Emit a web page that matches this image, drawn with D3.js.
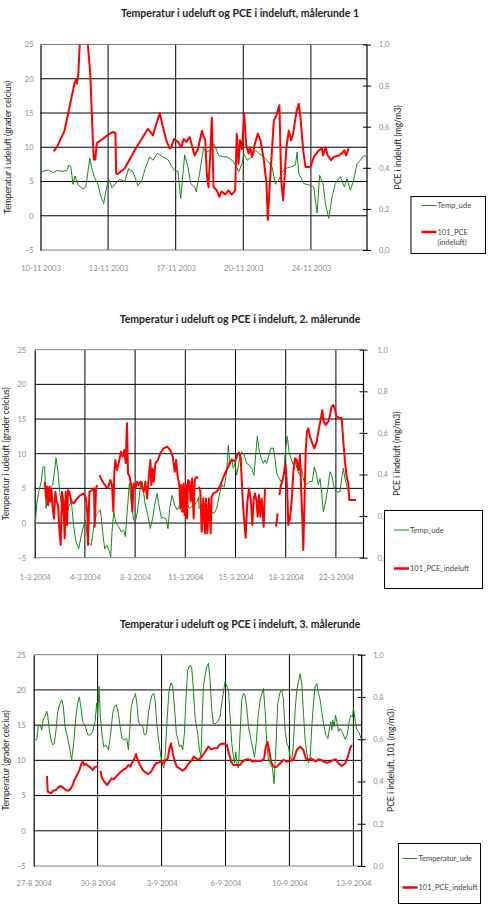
<!DOCTYPE html>
<html><head><meta charset="utf-8">
<script src="https://cdn.jsdelivr.net/npm/d3@7"></script>
<style>
body{margin:0;background:#fff}
text{font-family:Lato,"Open Sans",sans-serif}
</style>
</head><body>
<svg id="c" width="488" height="907"></svg>
<script>
// ---------- DATA ----------
const tempTicks = [-5, 0, 5, 10, 15, 20, 25];
const pceTicks = [0, 0.2, 0.4, 0.6, 0.8, 1.0];
const samplesPerLabel = 100;

// Chart 1
const title1 = "Temperatur i udeluft og PCE i indeluft, målerunde 1";
const labels1 = ["10-11 2003", "13-11 2003", "17-11 2003", "20-11 2003", "24-11 2003"];
const samples1 = 483;
const tempTitle1 = "Temperatur i udeluft  (grader celcius)";
const pceTitle1 = "PCE i indeluft (mg/m3)";
const legend1 = [["Temp_ude"], ["101_PCE", "(indeluft)"]];
const temp1 = [[0,6.3],[5,6.5],[12,6.7],[18,6.3],[25,6.6],[32,6.5],[39,6.6],[42,7.4],[45,7.1],[48,4.6],[51,5.8],[55.7,4.5],[63,3.9],[67,4.2],[73,8.4],[75.5,7.1],[79.4,5.7],[85.3,4.5],[88.7,3.0],[93.6,1.8],[96.5,3.5],[101,5.3],[105.9,4.1],[113.8,5.0],[117,5.3],[124.5,5.0],[130.4,6.9],[136.8,6.4],[144.2,4.4],[150.1,5.2],[155,6.9],[161.5,8.6],[166.4,8.1],[172.8,9.1],[181.2,8.6],[188.6,8.2],[193.5,7.3],[198.5,6.6],[203.4,6.5],[207.4,2.5],[210.8,6.2],[213.3,8.9],[218.2,7.1],[222.2,4.7],[228,4.2],[230.5,3.5],[235.4,6.2],[241,9.8],[246,9.3],[251,9.6],[256.4,10.5],[258.8,10.0],[263.7,8.8],[271,8.6],[276,8.6],[283.4,8.1],[288.4,7.4],[293.3,6.4],[298.2,7.6],[300.7,9.1],[305.6,8.1],[313,8.6],[318,9.6],[323,9.1],[327.8,8.8],[335.2,8.1],[342.6,7.1],[347.5,4.6],[352.5,5.2],[357.4,6.4],[362.3,6.9],[369.7,7.1],[377.1,7.4],[379.6,9.3],[382,6.2],[389.4,4.7],[396.8,4.5],[404.2,4.2],[409.1,0.4],[413,5.9],[418,4.7],[421.4,1.8],[426.4,-0.4],[431.3,2.8],[436.2,4.7],[443.6,5.7],[449.5,4.2],[453.5,5.4],[458.4,3.7],[463.3,5.2],[468.3,7.6],[473.2,8.1],[478.1,8.8],[483,8.6]];
const pce1 = [[19.8,0.48],[25.7,0.51],[35.5,0.58],[43,0.696],[50.3,0.81],[52.8,0.83],[54,0.81],[56,0.86],[58,1.0],[63,1.12],[70,1.0],[73.6,0.86],[77.5,0.53],[79,0.44],[81,0.44],[83.4,0.52],[92,0.54],[99.5,0.56],[106.9,0.574],[110.8,0.57],[112,0.372],[114,0.37],[124.5,0.397],[139.3,0.485],[159,0.59],[166.4,0.558],[170,0.6],[176.4,0.666],[181,0.6],[186.1,0.534],[191,0.494],[193.5,0.5],[197.4,0.54],[203.4,0.526],[208.3,0.5],[211.7,0.54],[215.6,0.526],[220.6,0.55],[224,0.51],[228,0.46],[232.9,0.49],[238.8,0.58],[241.7,0.55],[243.7,0.534],[246,0.372],[248.5,0.307],[251,0.453],[253.4,0.644],[256,0.307],[260.6,0.291],[264.6,0.259],[268,0.285],[273,0.27],[278,0.29],[283,0.27],[288,0.29],[290.3,0.566],[293,0.42],[295,0.534],[298,0.49],[301.3,0.663],[304.4,0.51],[307.8,0.47],[310,0.5],[313,0.453],[316.6,0.51],[321.5,0.566],[325.4,0.534],[330.4,0.437],[334.3,0.324],[336.3,0.146],[339.3,0.324],[342.7,0.5],[345.2,0.63],[349.1,0.655],[353.5,0.704],[356,0.34],[359,0.243],[361.4,0.372],[363.8,0.5],[367.3,0.58],[370.8,0.534],[373.7,0.566],[378.6,0.671],[382,0.712],[384.5,0.647],[388.5,0.49],[392,0.404],[399.4,0.404],[404.3,0.453],[411.7,0.485],[416.6,0.494],[418,0.46],[421.6,0.5],[425,0.46],[430,0.437],[434,0.453],[441,0.46],[446,0.47],[449.5,0.485],[452,0.46],[456,0.494]];

// Chart 2
const title2 = "Temperatur i udeluft  og PCE i indeluft, 2. målerunde";
const labels2 = ["1-3 2004", "4-3 2004", "8-3 2004", "11-3 2004", "15-3 2004", "18-3 2004", "22-3 2004"];
const samples2 = 655;
const tempTitle2 = "Temperatur i udeluft (grader celcius)";
const pceTitle2 = "PCE i indeluft (mg/m3)";
const legend2 = [["Temp_ude"], ["101_PCE_indeluft"]];
const temp2 = [[0,0],[1,-0.2],[4.6,3.1],[8,4.5],[13,6.0],[16.6,8.1],[20,8.1],[22.6,2.1],[26.6,5.0],[31,5.2],[35.9,5.5],[39.8,7.6],[42.5,9.4],[46.5,7.4],[49.8,4.5],[54.4,2.1],[57.8,0.7],[61,-0.5],[64.4,1.6],[69,2.6],[73,3.1],[77.7,-0.5],[82.3,-2.7],[87.6,-3.7],[93,-1.7],[97.6,-0.3],[101,0.4],[106,-2.7],[112.9,-3.2],[117.5,-0.5],[122.8,1.2],[130.8,1.9],[135.5,-1.3],[139.4,-3.7],[144,-3.2],[148.7,-4.1],[151.4,-4.9],[154,-1.3],[157.4,1.6],[162,0],[167.3,-0.5],[172.6,-1.3],[177.3,-1.0],[180.6,-2.0],[185.3,2.6],[188.6,5.7],[191.9,3.1],[197.2,0.4],[200.5,0.2],[203.9,1.4],[207.2,3.1],[210.5,5.2],[213.8,6.0],[217.1,4.3],[220.5,2.6],[225,1.2],[230.4,-0.8],[235,0.7],[239,2.6],[243.7,4.3],[247,2.8],[252.3,0.7],[257,0.8],[261.6,0.6],[265.6,-0.8],[268.9,2.1],[273.6,4.0],[278.9,2.6],[283.5,1.9],[288.2,2.4],[293.5,1.6],[298.8,2.6],[303.5,2.8],[308.2,2.1],[313.5,2.4],[318.7,2.6],[323.4,3.1],[326.7,3.8],[327.3,2.1],[332.6,2.6],[339.2,2.6],[345.9,2.5],[352.5,1.6],[357.8,1.4],[362.5,2.1],[367.1,3.8],[372.4,5.5],[377.7,5.2],[382.4,7.4],[385.7,11.2],[389,8.4],[392.3,9.3],[395.7,7.9],[399,8.6],[402.3,6.9],[407.6,9.1],[412.3,10.3],[417.6,9.8],[422.2,8.6],[426.9,8.4],[432.2,7.9],[436.8,6.9],[440.8,10.3],[443.5,12.5],[447.5,10.3],[452.1,9.1],[455.4,8.6],[458.8,9.1],[462.1,8.6],[466.7,9.8],[470.7,10.8],[475.3,10.8],[478.7,9.3],[482,7.2],[485.3,6.7],[490.6,6.0],[495.3,6.4],[499.9,10.8],[503.2,12.5],[506.6,10.3],[510.5,9.3],[515.2,8.4],[518.5,9.1],[521.8,8.1],[525.1,7.4],[528.5,6.9],[531.8,7.9],[535.1,6.4],[538.4,5.5],[543.7,5.7],[548.4,6.0],[553,6.0],[557,8.1],[561.7,6.9],[565,5.5],[568.3,6.4],[571.6,4.5],[575,1.6],[579.6,3.1],[584.9,5.5],[588.2,7.4],[591.6,6.9],[596.9,5.0],[601.5,4.5],[608.2,4.5],[611.5,6.4],[614.8,7.9],[618.1,6.4],[621.4,5.5],[624.8,4.5]];
const pce2 = [[20,0.365],[22.6,0.285],[24.6,0.341],[26.6,0.253],[29.2,0.341],[31.2,0.27],[33.2,0.333],[35.9,0.237],[38.5,0.189],[41.2,0.317],[43.8,0.27],[46.5,0.253],[49.1,0.141],[51.8,0.061],[54.4,0.317],[57.1,0.27],[59.8,0.093],[61.8,0.317],[64.4,0.157],[66.4,0.325],[69,0.317],[73,0.27],[77.7,0.261],[84.3,0.285],[91,0.301],[97.6,0.309],[102.3,0.285],[105,0.205],[106.2,0.061],[108.9,0.317],[114.2,0.325],[118.2,0.333],[119.5,0.149],[122.2,0.333],[124.2,0.349],[126,null],[128.8,0.397],[135.5,0.365],[142,0.341],[146,0.337],[150.7,0.373],[154,0.349],[156.7,0.221],[158.7,0.413],[160.7,0.47],[164,0.421],[168.6,0.47],[172,0.51],[175.3,0.486],[178.6,0.518],[181.3,0.454],[183.9,0.646],[185.9,0.405],[189.2,0.389],[192.6,0.341],[194.6,0.221],[197.2,0.357],[200.5,0.333],[203.9,0.365],[207.2,0.349],[210.5,0.365],[213.8,0.341],[217.1,0.317],[220.5,0.365],[223.8,0.285],[227,0.381],[230.4,0.47],[232.4,0.349],[235,0.429],[237.1,0.365],[240.4,0.454],[245.7,0.47],[250.3,0.502],[257,0.526],[263.6,0.534],[270.3,0.518],[274.9,0.486],[278.9,0.413],[281.6,0.47],[284.9,0.389],[288.2,0.349],[290.2,0.237],[292.2,0.349],[294.8,0.221],[296.8,0.357],[298.8,0.205],[301.5,0.349],[303.5,0.189],[305.5,0.373],[308.2,0.365],[310.8,0.27],[313.5,0.381],[316.7,0.189],[318.7,0.373],[322.6,0.389],[324.6,0.381],[326,null],[327.3,0.341],[330,0.317],[332.6,0.125],[335.9,0.285],[339.2,0.117],[341.2,0.285],[343.9,0.117],[347.2,0.285],[350.5,0.117],[352.5,0.293],[355.8,0.309],[362.5,0.317],[367.1,0.333],[372.4,0.365],[379.1,0.405],[385.7,0.437],[389,0.462],[393.7,0.47],[399,0.462],[403.6,0.494],[407,0.506],[410.3,0.478],[412.3,0.381],[414.9,0.253],[417.6,0.173],[420.2,0.096],[423.6,0.27],[426.9,0.333],[430.9,0.27],[433.5,0.157],[436.2,0.285],[438.8,0.309],[442.1,0.27],[444.1,0.197],[446.8,0.301],[449.4,0.197],[452.1,0.285],[454.1,0.221],[456.1,0.149],[458.7,0.333],[470,null],[480.7,0.149],[484,0.213],[485.5,null],[487.3,0.301],[490.6,0.349],[494,0.373],[497.3,0.413],[499.9,0.446],[503.2,0.317],[505.2,0.157],[508.5,0.189],[511.9,0.27],[515.2,0.413],[518.5,0.478],[521.8,0.47],[525.1,0.421],[528.5,0.494],[530.5,0.349],[533.1,0.189],[535.1,0.037],[537.1,0.237],[539.8,0.51],[542.4,0.606],[545.1,0.622],[548.4,0.582],[553,0.55],[557,0.526],[561.7,0.558],[566.3,0.622],[569.6,0.662],[573,0.71],[575.6,0.654],[579.6,0.638],[584.9,0.654],[588.2,0.686],[591.6,0.726],[594.9,0.734],[598.2,0.71],[601.5,0.678],[606.2,0.673],[611.5,0.67],[614.8,0.558],[618.1,0.462],[621.4,0.389],[624.8,0.357],[626.7,0.277],[632.7,0.277],[640,0.277]];

// Chart 3
const title3 = "Temperatur i udeluft og PCE i indeluft, 3. målerunde";
const labels3 = ["27-8 2004", "30-8 2004", "3-9 2004", "6-9 2004", "10-9 2004", "13-9 2004"];
const samples3 = 513;
const tempTitle3 = "Temperatur (grader celcius)";
const pceTitle3 = "PCE i indeluft, 101 (mg/m3)";
const legend3 = [["Temperatur_ude"], ["101_PCE_indeluft"]];
const temp3 = [[0,12.4],[2,12.9],[5,13.0],[7.3,15.0],[10.4,15.0],[12.5,14.3],[14.6,15.7],[17.7,16.2],[20.3,17.0],[21.9,16.4],[24.4,14.3],[27.1,12.9],[29.7,12.2],[32.3,12.4],[34.9,14.3],[37.5,16.9],[41.2,18.1],[43.8,18.6],[46.4,17.6],[49,14.8],[52.1,13.6],[55.8,11.9],[59.4,10.1],[62.5,12.4],[66.2,16.4],[68.8,18.1],[71.4,19.0],[74,17.4],[76.6,15.5],[80.3,15.0],[84.5,13.6],[88.6,13.6],[92.3,14.1],[95.9,15.5],[98.5,18.1],[100.1,16.2],[102.2,20.5],[104.3,16.2],[106.9,13.6],[109.5,11.9],[113.1,12.2],[116.8,11.5],[119.9,13.4],[123.6,16.7],[126.2,17.6],[129.3,17.9],[132.4,16.7],[135.6,14.5],[138.2,13.1],[141.8,12.9],[145.5,13.1],[148.1,11.5],[150.2,14.3],[152.3,17.4],[154.9,18.6],[157.5,19.0],[159.1,19.5],[161.7,17.9],[163.7,15.5],[166.9,15.0],[170.5,14.8],[173.1,13.6],[176.3,13.8],[179.4,16.7],[182.5,18.3],[185.1,19.3],[187.7,19.5],[189.8,18.6],[192.4,15.3],[195,13.1],[198.2,11.0],[200.3,9.6],[203.4,8.9],[205.5,10.6],[208.6,15.7],[211.7,20.0],[214.8,21.0],[217.5,20.5],[220.1,17.6],[223.2,13.8],[225.3,13.1],[227.9,11.9],[230.5,12.2],[233.1,11.5],[235.7,13.8],[238.3,19.0],[240.9,22.8],[244.6,23.5],[247.2,23.1],[249.8,20.0],[252.4,16.0],[256.6,13.8],[259.2,11.5],[261.8,10.5],[262.8,13.8],[265.4,20.5],[268,21.9],[270.7,23.3],[273.3,23.8],[275.9,21.4],[278.5,17.1],[281.1,15.2],[283.7,15.2],[287.9,15.5],[291.5,16.2],[294.1,18.1],[297.3,20.0],[299.3,21.2],[302,20.5],[304.6,20.0],[307.2,16.2],[309.8,12.4],[312.4,10.5],[314,9.6],[316,11.2],[318.1,9.3],[320.2,8.9],[322.8,13.8],[325.4,18.6],[328,19.5],[330.6,19.3],[333.3,17.4],[335.9,14.8],[339.5,13.1],[342.1,11.9],[345.3,10.5],[347.9,12.4],[351.5,16.7],[354.6,18.8],[359.3,20.2],[361.9,17.1],[364.6,12.4],[367.2,10.0],[369.8,9.6],[373.4,8.9],[376,6.7],[378.6,11.5],[381.8,18.1],[385.4,19.7],[388,20.0],[390.6,18.6],[393.2,14.3],[395.9,12.4],[398.5,11.9],[401.1,10.5],[403.7,10.0],[406.3,12.4],[408.9,17.1],[411.5,20.0],[415.2,21.6],[416.7,22.3],[419.3,20.9],[421.9,16.7],[424.5,12.9],[427.2,11.0],[429.8,9.6],[432.4,10.5],[435,14.8],[437.6,18.1],[440.2,20.5],[442.8,20.9],[445.4,19.5],[448,18.6],[450.6,16.9],[453.2,15.3],[456.9,13.6],[460,13.1],[462.1,14.3],[464.7,15.5],[466.3,14.3],[467.8,15.7],[469.9,14.8],[472,16.4],[474.6,15.3],[476.7,14.1],[479.3,14.5],[481.9,14.1],[484.5,13.6],[487.1,13.0],[490.3,13.6],[493.4,15.5],[496,16.4],[498.6,16.2],[500.2,17.4],[502.8,15.7],[505.4,14.3],[508,14.1],[510.6,13.5],[513,12.9]];
const pce3 = [[20.8,0.426],[21.9,0.352],[24.5,0.347],[27.1,0.344],[30.7,0.356],[34.9,0.36],[38.5,0.372],[41.7,0.379],[45.3,0.372],[49,0.363],[53.2,0.356],[57.3,0.363],[61,0.383],[63.6,0.407],[67.8,0.431],[71.4,0.454],[74,0.478],[76.6,0.494],[79.2,0.478],[81.9,0.483],[85.5,0.473],[88.6,0.467],[92.3,0.454],[94.9,0.467],[97.5,0.47],[101.1,0.473],[102.5,null],[104.3,0.451],[106.9,0.415],[110.5,0.399],[114.7,0.383],[118.4,0.399],[122,0.415],[125.1,0.41],[128.8,0.423],[132.4,0.435],[136.6,0.446],[140.7,0.457],[144.4,0.462],[148.1,0.478],[151.2,0.47],[153.8,0.489],[157.5,0.509],[160.1,0.53],[162.7,0.502],[166.3,0.478],[170.5,0.454],[174.7,0.443],[179.4,0.435],[183.6,0.446],[187.7,0.47],[191.4,0.486],[195,0.489],[199.2,0.494],[203.4,0.486],[207,0.502],[209.6,0.509],[212.3,0.557],[214.8,0.58],[217.5,0.533],[220.1,0.502],[223.7,0.47],[227.9,0.462],[233.1,0.451],[237.3,0.462],[240.9,0.478],[244.6,0.494],[247.7,0.502],[250.3,0.517],[254,0.509],[257.6,0.502],[262.8,0.517],[268.1,0.541],[273.3,0.565],[277.4,0.552],[281.1,0.557],[286.3,0.557],[291.5,0.576],[296.7,0.58],[302,0.573],[304.6,0.541],[308.7,0.494],[312.4,0.478],[317.6,0.478],[322.8,0.478],[326.5,0.494],[330.6,0.502],[334.8,0.505],[338.5,0.502],[342.1,0.494],[346.3,0.498],[351.5,0.497],[356.7,0.498],[360.4,0.509],[363,0.565],[365.6,0.588],[368.2,0.549],[371.3,0.494],[375,0.47],[380.2,0.47],[385.4,0.486],[390.6,0.502],[395.9,0.494],[401.1,0.497],[406.3,0.502],[411.5,0.549],[416.7,0.565],[421.9,0.549],[425.6,0.509],[429.8,0.502],[433.9,0.509],[437.6,0.502],[441.2,0.494],[445.4,0.505],[449.6,0.502],[453.2,0.494],[458.5,0.489],[463.7,0.494],[468.9,0.502],[472.5,0.505],[476.7,0.486],[481.9,0.473],[487.1,0.486],[491.3,0.517],[495,0.557],[497.6,0.573]];

// ---------- DRAW ----------
const svg = d3.select("#c");
const loc = d3.formatLocale({decimal: ",", thousands: ".", grouping: [3], currency: ["", ""]});
const fmtP = loc.format(".1f");
const GREEN = "#138a13", RED = "#ff0000";

function drawChart(cfg) {
  const g = svg.append("g");
  const x = d3.scaleLinear().domain([0, cfg.samples]).range([cfg.left, cfg.right]);
  const yT = d3.scaleLinear().domain([-5, 25]).range([cfg.bottom, cfg.top]);
  const yP = d3.scaleLinear().domain([0, 1]).range([cfg.bottom, cfg.top]);
  const labelIdx = cfg.labels.map((d, i) => i * samplesPerLabel);

  // title
  g.append("text").attr("x", cfg.titleX).attr("y", cfg.titleY)
    .attr("text-anchor", "middle").attr("font-size", 10.5).attr("font-weight", 700)
    .attr("fill", "#222").text(cfg.title);

  // horizontal grid
  g.append("g").selectAll("line").data(tempTicks.filter(t => t > -5 && t < 25)).join("line")
    .attr("x1", cfg.left).attr("x2", cfg.right)
    .attr("y1", d => yT(d)).attr("y2", d => yT(d))
    .attr("stroke", "#000").attr("stroke-width", 1);
  // vertical grid
  g.append("g").selectAll("line").data(labelIdx.slice(1)).join("line")
    .attr("x1", d => x(d)).attr("x2", d => x(d))
    .attr("y1", cfg.top).attr("y2", cfg.bottom)
    .attr("stroke", "#000").attr("stroke-width", 1);
  // plot border (top/bottom gray)
  g.append("line").attr("x1", cfg.left).attr("x2", cfg.right).attr("y1", cfg.top).attr("y2", cfg.top)
    .attr("stroke", "#808080");
  g.append("line").attr("x1", cfg.left).attr("x2", cfg.right).attr("y1", cfg.bottom).attr("y2", cfg.bottom)
    .attr("stroke", "#808080");

  // left axis
  const ax = d3.axisLeft(yT).tickValues(tempTicks).tickSize(0).tickPadding(cfg.lpad);
  const gl = g.append("g").attr("transform", `translate(${cfg.left},0)`).call(ax);
  gl.select(".domain").attr("stroke", "#000").attr("stroke-width", 1.2);
  gl.selectAll("text").attr("font-size", 7.5).attr("fill", "#8a8a8a").attr("font-family", "Lato");

  // right axis
  const axr = d3.axisRight(yP).tickValues(pceTicks).tickSize(4).tickPadding(cfg.rpad).tickFormat(fmtP);
  const gr = g.append("g").attr("transform", `translate(${cfg.right},0)`).call(axr);
  gr.select(".domain").attr("stroke", "#000").attr("stroke-width", 1.2).attr("d", `M0,${cfg.top}V${cfg.bottom}`);
  gr.selectAll(".tick line").attr("x1", -4).attr("x2", 4).attr("stroke", "#000");
  gr.selectAll("text").attr("font-size", 7.5).attr("fill", "#8a8a8a").attr("font-family", "Lato");

  // bottom labels
  const axb = d3.axisBottom(x).tickValues(labelIdx).tickFormat((d, i) => cfg.labels[i]).tickSize(0).tickPadding(cfg.bpad);
  const gb = g.append("g").attr("transform", `translate(0,${cfg.bottom})`).call(axb);
  gb.select(".domain").remove();
  gb.selectAll("text").attr("font-size", 7.5).attr("fill", "#8a8a8a").attr("font-family", "Lato");

  // axis titles
  g.append("text").attr("transform", `translate(${cfg.ltX},${(cfg.top + cfg.bottom) / 2 + cfg.ltDy}) rotate(-90)`)
    .attr("text-anchor", "middle").attr("font-size", 8.5).attr("fill", "#222").text(cfg.tempTitle);
  g.append("text").attr("transform", `translate(${cfg.rtX},${(cfg.top + cfg.bottom) / 2 + cfg.rtDy}) rotate(-90)`)
    .attr("text-anchor", "middle").attr("font-size", 8.5).attr("fill", "#222").text(cfg.pceTitle);

  // clip
  const cid = "clip" + cfg.id;
  svg.append("clipPath").attr("id", cid).append("rect")
    .attr("x", cfg.left).attr("y", cfg.top).attr("width", cfg.right - cfg.left).attr("height", cfg.bottom - cfg.top);
  const lines = g.append("g").attr("clip-path", `url(#${cid})`);
  const lineT = d3.line().defined(d => d[1] != null).x(d => x(d[0])).y(d => yT(d[1]));
  const lineP = d3.line().defined(d => d[1] != null).x(d => x(d[0])).y(d => yP(d[1]));
  lines.append("path").datum(cfg.temp).attr("d", lineT).attr("fill", "none")
    .attr("stroke", GREEN).attr("stroke-width", 1).attr("stroke-linejoin", "round");
  lines.append("path").datum(cfg.pce).attr("d", lineP).attr("fill", "none")
    .attr("stroke", RED).attr("stroke-width", 2).attr("stroke-linejoin", "round");

  // legend
  const L = cfg.legend;
  const lg = g.append("g");
  lg.append("rect").attr("x", L.x).attr("y", L.y).attr("width", L.w).attr("height", L.h)
    .attr("fill", "#fff").attr("stroke", "#000").attr("stroke-width", 1);
  const cols = [GREEN, RED], widths = [1, 2.5];
  cfg.legendText.forEach((lines, i) => {
    const ly = L.rows[i];
    lg.append("line").attr("x1", L.lx).attr("x2", L.lx + 15).attr("y1", ly).attr("y2", ly)
      .attr("stroke", cols[i]).attr("stroke-width", widths[i]);
    const t = lg.append("text").attr("x", L.lx + 16).attr("y", ly + 2.5)
      .attr("font-size", 7.5).attr("fill", "#444");
    lines.forEach((s, k) => t.append("tspan").attr("x", L.lx + 16).attr("dy", k === 0 ? 0 : 10.5).text(s));
  });
}

drawChart({id: 1, title: title1, labels: labels1, samples: samples1, temp: temp1, pce: pce1,
  tempTitle: tempTitle1, pceTitle: pceTitle1, legendText: legend1,
  left: 40.5, right: 367, top: 44.5, bottom: 250, titleX: 240, titleY: 17,
  lpad: 7, rpad: 8, bpad: 16, ltX: 11, ltDy: 0, rtX: 401, rtDy: 0,
  legend: {x: 411, y: 196.5, w: 74.5, h: 57, lx: 421.5, rows: [205.5, 232]}});

drawChart({id: 2, title: title2, labels: labels2, samples: samples2, temp: temp2, pce: pce2,
  tempTitle: tempTitle2, pceTitle: pceTitle2, legendText: legend2,
  left: 34.7, right: 363.5, top: 349.7, bottom: 557.7, titleX: 240, titleY: 323,
  lpad: 8.5, rpad: 10, bpad: 17, ltX: 9, ltDy: 0, rtX: 400, rtDy: 0,
  legend: {x: 384.5, y: 510.5, w: 98, h: 78, lx: 394, rows: [530, 568.5]}});

drawChart({id: 3, title: title3, labels: labels3, samples: samples3, temp: temp3, pce: pce3,
  tempTitle: tempTitle3, pceTitle: pceTitle3, legendText: legend3,
  left: 33.7, right: 361.7, top: 654.7, bottom: 866, titleX: 240, titleY: 628,
  lpad: 8, rpad: 7.5, bpad: 15, ltX: 9, ltDy: 0, rtX: 394, rtDy: 0,
  legend: {x: 398.5, y: 843.5, w: 82, h: 60, lx: 402.5, rows: [858.5, 887.5]}});
</script>
</body></html>
